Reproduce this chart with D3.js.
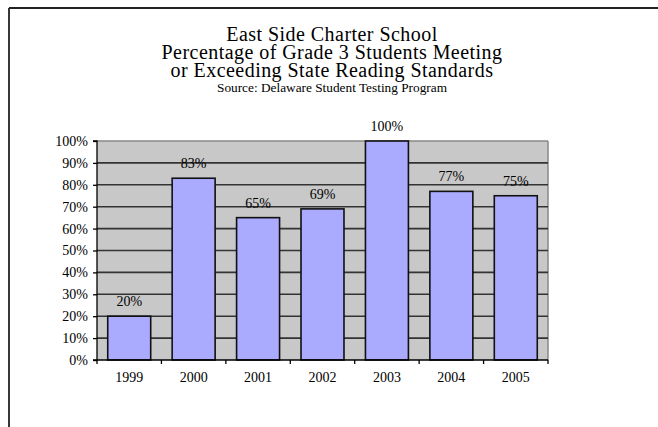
<!DOCTYPE html>
<html><head><meta charset="utf-8">
<script src="https://cdn.jsdelivr.net/npm/d3@7"></script>
<style>body{margin:0;background:#fff}svg{display:block}</style>
</head><body>
<script>
const years = ["1999","2000","2001","2002","2003","2004","2005"];
const values = [20, 83, 65, 69, 100, 77, 75];
const yTicks = [0,10,20,30,40,50,60,70,80,90,100];
const titleLines = ["East Side Charter School","Percentage of Grade 3 Students Meeting","or Exceeding State Reading Standards"];
const sourceLine = "Source: Delaware Student Testing Program";

const W = 658, H = 427;
const svg = d3.select("body").append("svg").attr("width", W).attr("height", H);
const font = "'Liberation Serif','Times New Roman',serif";

// outer frame (top and left visible)
svg.append("line").attr("x1",9).attr("x2",W).attr("y1",8).attr("y2",8).attr("stroke","#222").attr("stroke-width",1.8);
svg.append("line").attr("x1",9).attr("x2",9).attr("y1",8).attr("y2",H).attr("stroke","#222").attr("stroke-width",1.8);

const L = 97, R = 548, T = 141, B = 360;
const x = d3.scaleBand().domain(years).range([L, R]).paddingInner(0.333).paddingOuter(0.1665);
const y = d3.scaleLinear().domain([0,100]).range([B, T]);

svg.append("rect").attr("x",L).attr("y",T).attr("width",R-L).attr("height",B-T).attr("fill","#c8c8c8");
svg.append("line").attr("x1",R).attr("x2",R).attr("y1",T).attr("y2",B).attr("stroke","#888").attr("stroke-width",1.5);

svg.append("g").selectAll("line").data(yTicks.filter(d=>d>0)).join("line")
  .attr("x1",L).attr("x2",R).attr("y1",d=>y(d)).attr("y2",d=>y(d))
  .attr("stroke", d=>d===100?"#888":"#333").attr("stroke-width",1.6);

svg.append("g").selectAll("rect").data(values).join("rect")
  .attr("x",(d,i)=>x(years[i])).attr("width",x.bandwidth())
  .attr("y",d=>y(d)).attr("height",d=>B-y(d))
  .attr("fill","#aaaaff").attr("stroke","#111").attr("stroke-width",1.6);

// y axis
const ya = d3.axisLeft(y).tickValues(yTicks).tickFormat(d=>d+"%").tickSize(4).tickPadding(5);
const yg = svg.append("g").attr("transform",`translate(${L},0)`).call(ya);
yg.select(".domain").attr("stroke","#000").attr("stroke-width",1.3).attr("d",`M-4,${T}H0V${B}H-4`);
yg.selectAll("text").attr("font-family",font).attr("font-size",14).attr("fill","#000");
yg.selectAll("line").attr("stroke","#000").attr("stroke-width",1.3);

// x axis
const xa = d3.axisBottom(x).tickSize(0).tickPadding(12);
const xg = svg.append("g").attr("transform",`translate(0,${B})`).call(xa);
xg.select(".domain").attr("stroke","#000").attr("stroke-width",1.3).attr("d",`M${L},0H${R}`);
xg.selectAll("text").attr("font-family",font).attr("font-size",14).attr("fill","#000");
const step = x.step();
svg.append("g").selectAll("line").data(d3.range(years.length+1)).join("line")
  .attr("x1",i=>L+i*step).attr("x2",i=>L+i*step).attr("y1",B).attr("y2",B+4)
  .attr("stroke","#000").attr("stroke-width",1.3);

// value labels
svg.append("g").selectAll("text").data(values).join("text")
  .attr("x",(d,i)=>x(years[i])+x.bandwidth()/2).attr("y",d=>y(d)-10)
  .attr("text-anchor","middle").attr("font-family",font).attr("font-size",14)
  .text(d=>d+"%");

// titles (one text block with line tspans)
const tt = svg.append("text").attr("x",332).attr("y",41).attr("text-anchor","middle")
  .attr("font-family",font).attr("font-size",20).attr("letter-spacing",0.45);
tt.selectAll("tspan").data(titleLines).join("tspan")
  .attr("x",332).attr("dy",(d,i)=>i===0?0:18).text(d=>d);
svg.append("text").attr("x",332).attr("y",92).attr("text-anchor","middle")
  .attr("font-family",font).attr("font-size",13.3).text(sourceLine);
</script>
</body></html>
